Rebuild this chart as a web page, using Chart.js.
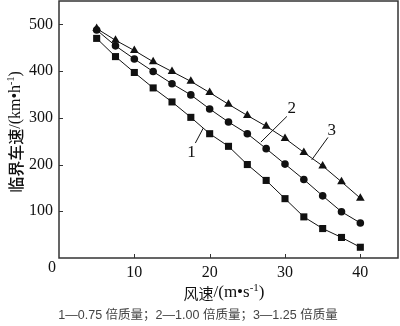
<!DOCTYPE html>
<html>
<head>
<meta charset="utf-8">
<script src="https://cdn.jsdelivr.net/npm/chart.js@4/dist/chart.umd.min.js"></script>
<style>
  html, body { margin: 0; padding: 0; background: #fff; }
  canvas { display: block; }
</style>
</head>
<body>
<canvas id="chart" width="400" height="326"></canvas>
<script>
(() => {
  "use strict";

  // wind speed (m/s) and critical vehicle speed (km/h) per mass factor
  const windSpeed = [5, 7.5, 10, 12.5, 15, 17.5, 20, 22.5, 25, 27.5, 30, 32.5, 35, 37.5, 40];
  const speedMass075 = [470, 431, 397, 364, 334, 301, 266, 239, 200, 166, 127, 88, 63, 44, 23];
  const speedMass100 = [488, 454, 426, 399, 373, 349, 319, 291, 266, 234, 201, 168, 133, 99, 75];
  const speedMass125 = [491, 466, 444, 420, 399, 378, 354, 329, 305, 282, 256, 226, 197, 163, 128];
  const seriesLabels = ["1", "2", "3"];
  const captionText = "1\u20140.75 倍质量；2\u20141.00 倍质量；3\u20141.25 倍质量";

  // leader lines for the curve numbers, in data units: [x1, y1, x2, y2, textX, textY]
  const callouts = [
    [19.15, 278, 18.1, 246, 17.6, 226],
    [26.8, 248, 30.25, 303, 30.9, 320],
    [33.55, 210, 35.7, 258, 36.2, 273],
  ];

  const SERIF = "'Liberation Serif', 'Noto Sans CJK SC', serif";
  const CJK = "'Noto Sans CJK SC', sans-serif";
  const INK = "#111";
  const FRAME = "#333";

  const toPoints = (ys) => ys.map((y, i) => ({ x: windSpeed[i], y }));

  function dataset(label, values, style, radius) {
    return {
      label,
      data: toPoints(values),
      borderColor: INK,
      backgroundColor: INK,
      borderWidth: 1,
      pointStyle: style,
      pointRadius: radius,
      pointBorderWidth: 0,
      pointBackgroundColor: INK,
      tension: 0,
    };
  }

  // draws a run of text pieces (each with its own font, optional raise), centred at (cx, cy)
  function drawRun(ctx, parts, cx, cy) {
    const widths = parts.map((p) => {
      ctx.font = p.font;
      return ctx.measureText(p.t).width;
    });
    const total = widths.reduce((a, b) => a + b, 0);
    let x = cx - total / 2;
    ctx.textAlign = "left";
    ctx.textBaseline = "middle";
    parts.forEach((p, i) => {
      ctx.font = p.font;
      ctx.fillText(p.t, x, cy - (p.raise || 0));
      x += widths[i];
    });
  }

  const decorations = {
    id: "decorations",
    afterDatasetsDraw(chart) {
      const { ctx, chartArea: a, scales } = chart;
      const xs = scales.x, ys = scales.y;
      ctx.save();

      // plot frame
      ctx.strokeStyle = FRAME;
      ctx.lineWidth = 1.5;
      ctx.strokeRect(a.left, a.top, a.right - a.left, a.bottom - a.top);

      // inward tick marks
      ctx.lineWidth = 1;
      ctx.beginPath();
      xs.ticks.forEach((t) => {
        if (t.value === 0) return;
        const px = Math.round(xs.getPixelForValue(t.value)) + 0.5;
        ctx.moveTo(px, a.bottom);
        ctx.lineTo(px, a.bottom - 4);
      });
      ys.ticks.forEach((t) => {
        if (t.value === 0) return;
        const py = Math.round(ys.getPixelForValue(t.value)) + 0.5;
        ctx.moveTo(a.left, py);
        ctx.lineTo(a.left + 4, py);
      });
      ctx.stroke();

      // shared origin label
      ctx.fillStyle = INK;
      ctx.font = "16px " + SERIF;
      ctx.textAlign = "center";
      ctx.textBaseline = "middle";
      ctx.fillText("0", a.left - 7, a.bottom + 10);

      // curve callouts
      ctx.strokeStyle = INK;
      ctx.lineWidth = 1;
      callouts.forEach((c, i) => {
        ctx.beginPath();
        ctx.moveTo(xs.getPixelForValue(c[0]), ys.getPixelForValue(c[1]));
        ctx.lineTo(xs.getPixelForValue(c[2]), ys.getPixelForValue(c[3]));
        ctx.stroke();
        ctx.font = "17px " + SERIF;
        ctx.textAlign = "center";
        ctx.textBaseline = "middle";
        ctx.fillText(seriesLabels[i], xs.getPixelForValue(c[4]), ys.getPixelForValue(c[5]));
      });

      // axis titles
      drawRun(ctx, [
        { t: "风速", font: "15px " + CJK },
        { t: "/(m•s", font: "17px " + SERIF },
        { t: "-1", font: "11px " + SERIF, raise: 5 },
        { t: ")", font: "17px " + SERIF },
      ], 224, 293);
      ctx.save();
      ctx.translate(16, 132);
      ctx.rotate(-Math.PI / 2);
      drawRun(ctx, [
        { t: "临界车速", font: "500 16px " + CJK },
        { t: "/(km•h", font: "16px " + SERIF },
        { t: "-1", font: "10px " + SERIF, raise: 5 },
        { t: ")", font: "16px " + SERIF },
      ], 0, 0);
      ctx.restore();

      // caption
      ctx.fillStyle = "#444";
      ctx.font = "12.5px 'Liberation Sans', 'Noto Sans CJK SC', sans-serif";
      ctx.textAlign = "center";
      ctx.textBaseline = "middle";
      ctx.fillText(captionText, 198, 316);

      ctx.restore();
    },
  };

  new Chart(document.getElementById("chart"), {
    type: "line",
    data: {
      datasets: [
        dataset("0.75", speedMass075, "rect", 5),
        dataset("1.00", speedMass100, "circle", 3.8),
        dataset("1.25", speedMass125, "triangle", 5),
      ],
    },
    options: {
      responsive: false,
      animation: false,
      devicePixelRatio: 1,
      layout: { autoPadding: false, padding: { top: 1, right: 2, left: 0, bottom: 0 } },
      plugins: { legend: { display: false }, tooltip: { enabled: false } },
      scales: {
        x: {
          type: "linear",
          min: 0,
          max: 45,
          grid: { display: false, drawTicks: false },
          border: { display: false },
          afterFit: (s) => {
            s.height = 68;
            s.paddingLeft = 0;
            s.paddingRight = 0;
          },
          ticks: {
            stepSize: 10,
            includeBounds: false,
            padding: 5,
            color: INK,
            font: { family: SERIF, size: 16 },
            callback: (v) => (v === 0 ? "" : v),
          },
        },
        y: {
          min: 0,
          max: 550,
          grid: { display: false, drawTicks: false },
          border: { display: false },
          afterFit: (s) => {
            s.width = 59;
            s.paddingTop = 0;
            s.paddingBottom = 0;
          },
          ticks: {
            stepSize: 100,
            includeBounds: false,
            padding: 6,
            color: INK,
            font: { family: SERIF, size: 16 },
            callback: (v) => (v === 0 ? "" : v),
          },
        },
      },
    },
    plugins: [decorations],
  });
})();
</script>
</body>
</html>
